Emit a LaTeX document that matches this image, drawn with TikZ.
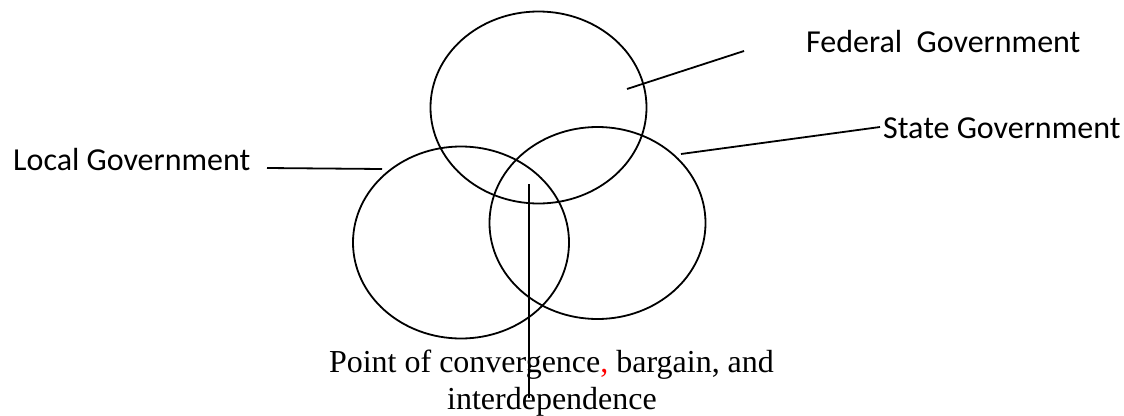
\documentclass[tikz,border=0pt]{standalone}
\usepackage{fontspec}
\setmainfont{Liberation Serif}
\newfontfamily\calib{Carlito}
\usetikzlibrary{shapes.geometric}
\begin{document}
\begin{tikzpicture}[x=1pt,y=-1pt,
  govcircle/.style={ellipse,draw,line width=1.8pt,inner sep=0pt,minimum width=216pt,minimum height=192pt},
  lead/.style={line width=1.8pt},
  sanslabel/.style={inner sep=0pt,anchor=base west,font=\calib\fontsize{32}{38}\selectfont},
  seriflabel/.style={inner sep=0pt,anchor=base,font=\fontsize{32}{37}\selectfont}]
\useasboundingbox (0,0) rectangle (1124,415);
\node[govcircle] (fed) at (538.5,107.5) {};
\node[govcircle] (state) at (597.5,223) {};
\node[govcircle] (local) at (461,242.5) {};
\node[sanslabel] (fedlab) at (806,52) {Federal\ \ Government};
\node[sanslabel] (statelab) at (883,138) {State Government};
\node[sanslabel] (locallab) at (13,170) {Local Government};
\node[seriflabel] (pt1) at (551.5,372) {Point of convergence\textcolor{red}{,} bargain, and};
\node[seriflabel] (pt2) at (552,409) {interdependence};
\coordinate (fedin) at (627,89);
\coordinate (fedout) at (744,51);
\coordinate (statein) at (681,154);
\coordinate (stateout) at (880,127);
\coordinate (localin) at (382,169);
\coordinate (localout) at (267,168);
\coordinate (convtop) at (529,184);
\coordinate (convbot) at (529,398);
\draw[lead] (fedin) -- (fedout);
\draw[lead] (statein) -- (stateout);
\draw[lead] (localout) -- (localin);
\draw[lead] (convtop) -- (convbot);
\end{tikzpicture}
\end{document}
